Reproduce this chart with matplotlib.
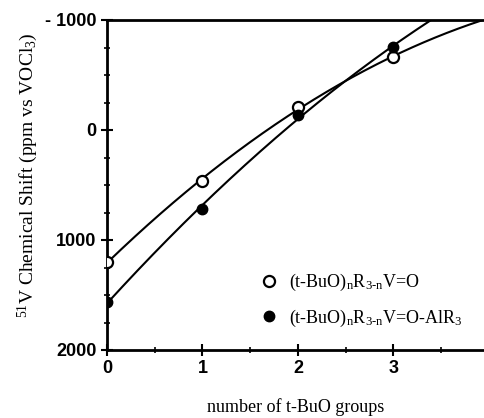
import numpy as np
import matplotlib
matplotlib.use("Agg")
import matplotlib.pyplot as plt
from matplotlib.ticker import MultipleLocator, FixedLocator

n_groups = [0, 1, 2, 3]
shift_free = [1200, 464, -209, -664]       # (t-BuO)nR3-nV=O  (open)
shift_adduct = [1564, 718, -136, -755]     # (t-BuO)nR3-nV=O-AlR3 (filled)
ytick_vals = [-1000, 0, 1000, 2000]
ytick_labels = ["- 1000", "0", "1000", "2000"]
xtick_vals = [0, 1, 2, 3]

serif = "Liberation Serif"
plt.rcParams["mathtext.fontset"] = "custom"
plt.rcParams["mathtext.rm"] = serif
plt.rcParams["mathtext.it"] = serif
plt.rcParams["mathtext.bf"] = serif + ":bold"

fig = plt.figure(figsize=(4.85, 4.18), dpi=100)
ax = fig.add_axes([107/485, 1-350/418, 1-107/485, 330/418])

xs = np.linspace(0, 4.0, 300)
for ys in (shift_free, shift_adduct):
    c = np.polyfit(n_groups, ys, 2)
    ax.plot(xs, np.polyval(c, xs), color="black", lw=1.5, zorder=2)

ax.plot(n_groups, shift_free, "o", ms=8, mfc="white", mec="black", mew=1.6, ls="none",
        zorder=3, label=r"(t-BuO)$_{\mathrm{n}}$R$_{\mathrm{3\text{-}n}}$V=O")
ax.plot(n_groups, shift_adduct, "o", ms=7.5, mfc="black", mec="black", ls="none",
        zorder=3, label=r"(t-BuO)$_{\mathrm{n}}$R$_{\mathrm{3\text{-}n}}$V=O-AlR$_{\mathrm{3}}$")

ax.set_xlim(0, 3.96)
ax.set_ylim(2000, -1000)
ax.spines["right"].set_visible(False)
for s in ("left", "bottom", "top"):
    ax.spines[s].set_linewidth(2)

ax.xaxis.set_major_locator(FixedLocator(xtick_vals))
ax.xaxis.set_minor_locator(FixedLocator([0.5, 1.5, 2.5, 3.5]))
ax.set_yticks(ytick_vals)
ax.set_yticklabels(ytick_labels)
ax.yaxis.set_minor_locator(MultipleLocator(250))
ax.tick_params(which="major", direction="inout", length=8, width=1.5,
               labelsize=13, top=False, right=False)
ax.tick_params(which="minor", direction="inout", length=4, width=1.2, top=False, right=False)
for lab in ax.get_xticklabels() + ax.get_yticklabels():
    lab.set_fontfamily("Liberation Sans")
    lab.set_fontweight("bold")

ax.set_xlabel("number of t-BuO groups", fontfamily=serif, fontsize=13, labelpad=15)
ax.set_ylabel(r"$^{\mathrm{51}}$V Chemical Shift (ppm vs VOCl$_{\mathrm{3}}$)", fontfamily=serif,
              fontsize=14, labelpad=4)
ax.yaxis.set_label_coords(-0.176, 0.53)

leg = ax.legend(loc="upper left", bbox_to_anchor=(251/485, 1-263/418), bbox_transform=fig.transFigure,
                frameon=False, handlelength=1.0, handletextpad=0.6, labelspacing=0.8,
                prop={"family": serif, "size": 13}, borderpad=0)

fig.savefig("out.png", dpi=100)
